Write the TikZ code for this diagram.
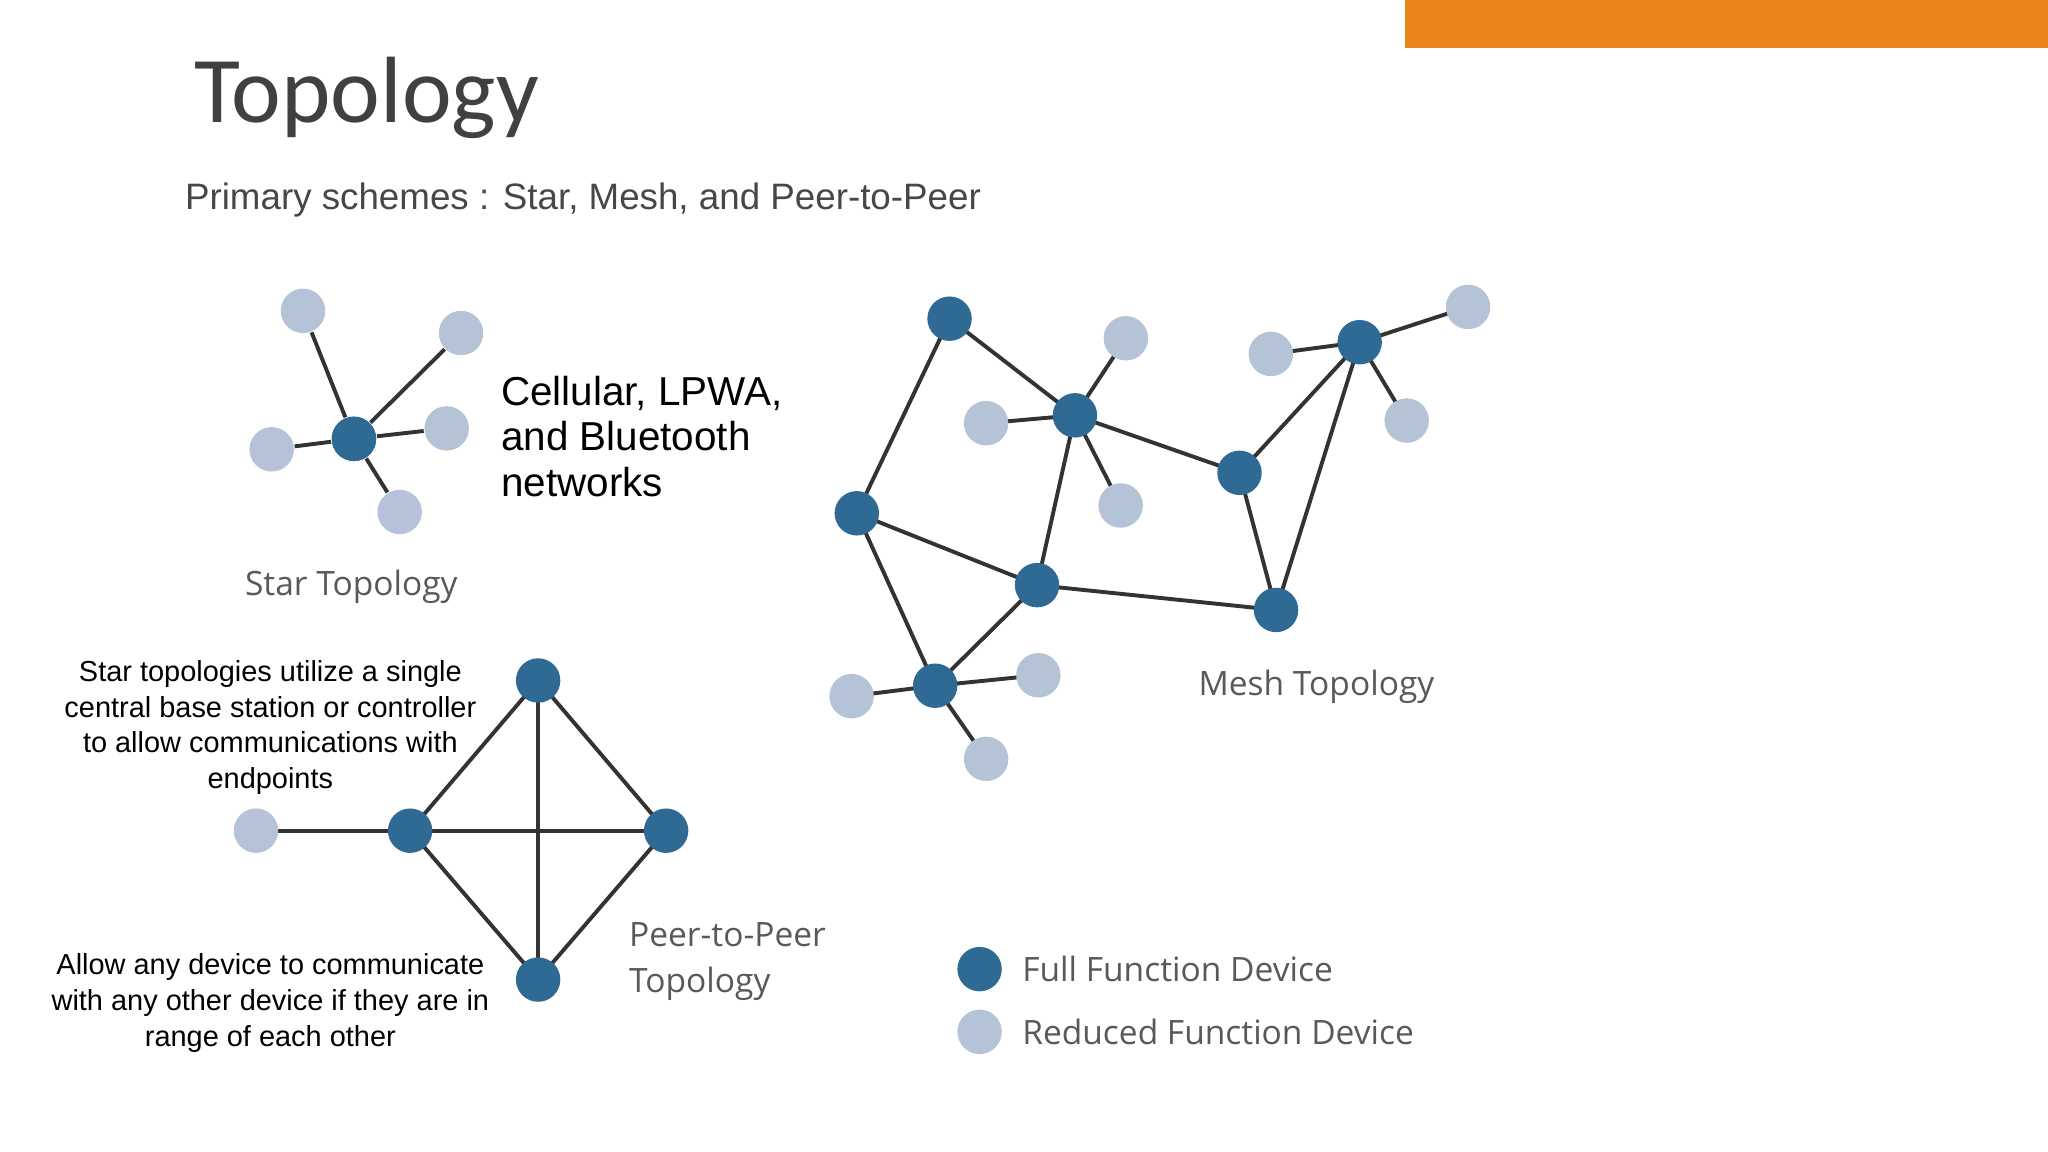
\documentclass[tikz,border=0pt]{standalone}
\usepackage{fontspec}
\setmainfont{Liberation Sans}
\newfontfamily\titlefont{Carlito}
\newfontfamily\labfont{Open Sans}
\definecolor{dk}{HTML}{2E6A94}
\definecolor{lt}{HTML}{B4C3D6}
\definecolor{org}{HTML}{E8841A}
\definecolor{edge}{HTML}{333333}
\begin{document}
\begin{tikzpicture}[x=0.01cm,y=-0.01cm,
 ffd/.style={circle,fill=dk,minimum size=0.34cm,inner sep=0pt},
 rfd/.style={circle,fill=lt,minimum size=0.34cm,inner sep=0pt},
 ln/.style={draw=edge,line width=0.85pt},
 lab/.style={font=\labfont\fontsize{7.3}{9.2}\selectfont,text=black!65,inner sep=0pt,align=left},
 body/.style={font=\fontsize{6.3}{7.8}\selectfont,align=center,inner sep=0pt}]
\useasboundingbox (0,0) rectangle (1568,882);
\fill[org] (1076,0) rectangle (1568,37);
\node[anchor=west,inner sep=0pt,font=\titlefont\fontsize{20.5}{24}\selectfont,text=black!75] (title) at (148,75) {Topology};
\node[anchor=west,inner sep=0pt,font=\fontsize{8}{10}\selectfont,text=black!72] (sub) at (141,153) {Primary schemes : Star, Mesh, and Peer-to-Peer};
% star
\node[ffd] (s0) at (271,336) {};
\foreach \n/\x/\y in {s1/232/238,s2/353/255,s3/208/344,s4/342/328,s5/306/392}{\node[rfd] (\n) at (\x,\y) {};}
\begin{scope}[on background layer/.try]\end{scope}
\foreach \n in {s1,s2,s3,s4,s5}{\draw[ln] (s0) -- (\n);}
\node[ffd] at (s0) {};
\node[anchor=north west,inner sep=0pt,align=left,font=\fontsize{8.8}{10}\selectfont] (cell) at (383,287) {Cellular, LPWA,\\and Bluetooth\\networks};
\node[lab] (starlab) at (269,449) {Star Topology};
% mesh
\foreach \n/\x/\y in {A/727/244,B/823/318,C/656/393,D/794/448,E/949/362,F/1041/262,G/977/467,H/716/525}{\coordinate (\n) at (\x,\y);}
\foreach \n/\x/\y in {l1/862/259,l2/755/324,l3/858/387,l4/973/271,l5/1124/235,l6/1077/322,l7/652/533,l8/795/517,l9/755/581}{\coordinate (\n) at (\x,\y);}
\foreach \a/\b in {A/B,A/C,B/l1,B/l2,B/l3,B/E,B/D,C/D,C/H,D/H,D/G,E/F,E/G,F/G,F/l4,F/l5,F/l6,H/l7,H/l8,H/l9}{\draw[ln] (\a) -- (\b);}
\foreach \n in {A,B,C,D,E,F,G,H}{\node[ffd] (m\n) at (\n) {};}
\foreach \n in {l1,l2,l3,l4,l5,l6,l7,l8,l9}{\node[rfd] (m\n) at (\n) {};}
\node[lab,anchor=west] (meshlab) at (917,526) {Mesh Topology};
% p2p
\coordinate (pT) at (412,521); \coordinate (pL) at (314,636); \coordinate (pR) at (510,636); \coordinate (pB) at (412,750); \coordinate (pX) at (196,636);
\foreach \a/\b in {pT/pL,pT/pR,pT/pB,pL/pR,pL/pB,pR/pB,pX/pL}{\draw[ln] (\a) -- (\b);}
\foreach \n in {pT,pL,pR,pB}{\node[ffd] (n\n) at (\n) {};}
\node[rfd] (npX) at (pX) {};
\node[lab,anchor=west] (p2plab) at (481,736) {Peer-to-Peer\\[0.9pt]Topology};
\node[body] (t1) at (207,557) {Star topologies utilize a single\\central base station or controller\\to allow communications with\\endpoints};
\node[body] (t2) at (207,768) {Allow any device to communicate\\with any other device if they are in\\range of each other};
% legend
\node[ffd] (lg1) at (750,742) {};
\node[rfd] (lg2) at (750,790) {};
\node[lab,anchor=west] (lgt1) at (782,742) {Full Function Device};
\node[lab,anchor=west] (lgt2) at (782,790) {Reduced Function Device};
\end{tikzpicture}
\end{document}
